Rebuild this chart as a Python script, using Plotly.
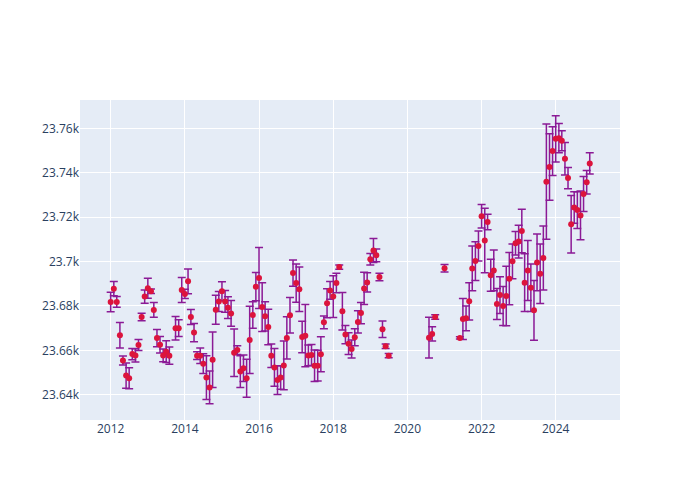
import plotly.graph_objects as go

dates = [
    "2012-01-01", "2012-02-01", "2012-03-01", "2012-04-01", "2012-05-01", "2012-06-01",
    "2012-07-01", "2012-08-01", "2012-09-01", "2012-10-01", "2012-11-01", "2012-12-01",
    "2013-01-01", "2013-02-01", "2013-03-01", "2013-04-01", "2013-05-01", "2013-06-01",
    "2013-07-01", "2013-08-01", "2013-10-01", "2013-11-01", "2013-12-01",
    "2014-01-01", "2014-02-01", "2014-03-01", "2014-04-01", "2014-05-01", "2014-06-01",
    "2014-07-01", "2014-08-01", "2014-09-01", "2014-10-01", "2014-11-01", "2014-12-01",
    "2015-01-01", "2015-02-01", "2015-03-01", "2015-04-01", "2015-05-01", "2015-06-01",
    "2015-07-01", "2015-08-01", "2015-09-01", "2015-10-01", "2015-11-01", "2015-12-01",
    "2016-01-01", "2016-02-01", "2016-03-01", "2016-04-01", "2016-05-01", "2016-06-01",
    "2016-07-01", "2016-08-01", "2016-09-01", "2016-10-01", "2016-11-01", "2016-12-01",
    "2017-01-01", "2017-02-01", "2017-03-01", "2017-04-01", "2017-05-01", "2017-06-01",
    "2017-07-01", "2017-08-01", "2017-09-01", "2017-10-01", "2017-11-01", "2017-12-01",
    "2018-01-01", "2018-02-01", "2018-03-01", "2018-04-01", "2018-05-01", "2018-06-01",
    "2018-07-01", "2018-08-01", "2018-09-01", "2018-10-01", "2018-11-01", "2018-12-01",
    "2019-01-01", "2019-02-01", "2019-03-01", "2019-04-01", "2019-05-01", "2019-06-01",
    "2019-07-01",
    "2020-08-01", "2020-09-01", "2020-10-01", "2021-01-01",
    "2021-06-01", "2021-07-01", "2021-08-01", "2021-09-01", "2021-10-01", "2021-11-01",
    "2021-12-01",
    "2022-01-01", "2022-02-01", "2022-03-01", "2022-04-01", "2022-05-01", "2022-06-01",
    "2022-07-01", "2022-08-01", "2022-09-01", "2022-10-01", "2022-11-01", "2022-12-01",
    "2023-01-01", "2023-02-01", "2023-03-01", "2023-04-01", "2023-05-01", "2023-06-01",
    "2023-07-01", "2023-08-01", "2023-09-01", "2023-10-01", "2023-11-01", "2023-12-01",
    "2024-01-01", "2024-02-01", "2024-03-01", "2024-04-01", "2024-05-01", "2024-06-01",
    "2024-07-01", "2024-08-01", "2024-09-01", "2024-10-01", "2024-11-01", "2024-12-01",
]

values = [
    23681.8, 23687.8, 23681.8, 23666.8, 23655.4, 23648.6,
    23647.4, 23658.3, 23657.7, 23662.4, 23675.0, 23684.2,
    23688.0, 23686.6, 23678.2, 23665.5, 23662.5, 23657.7,
    23659.4, 23657.6, 23669.9, 23670.0, 23687.2,
    23685.4, 23691.1, 23675.0, 23668.0, 23657.6, 23657.6,
    23654.0, 23647.7, 23643.3, 23655.8, 23678.3, 23682.0,
    23686.6, 23682.0, 23679.2, 23676.6, 23658.9, 23660.1,
    23650.4, 23651.9, 23647.4, 23664.7, 23675.9, 23688.7,
    23692.6, 23679.5, 23675.3, 23670.5, 23657.6, 23652.3,
    23646.6, 23647.8, 23653.2, 23665.6, 23675.8, 23694.8,
    23690.3, 23687.5, 23666.0, 23666.6, 23657.7, 23657.9,
    23653.1, 23653.1, 23658.2, 23672.6, 23681.2, 23687.0,
    23684.2, 23690.3, 23697.5, 23677.6, 23667.1, 23663.0,
    23660.6, 23665.9, 23672.8, 23676.8, 23687.9, 23690.6,
    23701.0, 23705.0, 23702.8, 23693.0, 23669.5, 23661.8,
    23657.6,
    23665.7, 23667.4, 23675.0, 23697.0,
    23665.6, 23674.1, 23674.4, 23682.1, 23696.9, 23700.2,
    23707.0,
    23720.4, 23709.5, 23717.8, 23693.8, 23696.0, 23680.9,
    23684.9, 23680.0, 23684.5, 23692.3, 23700.1, 23708.2,
    23709.0, 23713.8, 23690.5, 23696.0, 23688.2, 23678.0,
    23699.6, 23694.5, 23701.6, 23736.0, 23742.6, 23749.8,
    23755.3, 23755.6, 23754.4, 23746.3, 23737.6, 23716.8,
    23724.4, 23723.2, 23720.8, 23730.4, 23735.7, 23744.2,
]

errors = [
    4.4, 3.2, 2.4, 5.7, 2.0, 5.7,
    4.7, 2.5, 3.0, 2.5, 1.7, 3.0,
    4.5, 1.0, 3.3, 3.9, 3.7, 2.9,
    4.9, 3.9, 5.3, 3.8, 5.6,
    2.1, 5.6, 3.4, 4.1, 1.7, 3.5,
    4.4, 9.9, 7.4, 12.5, 6.5, 4.5,
    4.3, 4.9, 4.9, 5.8, 10.7, 2.0,
    7.1, 6.0, 8.6, 15.2, 6.0, 6.4,
    13.7, 11.0, 6.6, 8.0, 5.3, 8.5,
    6.5, 5.3, 11.0, 9.5, 8.0, 5.9,
    8.6, 10.0, 7.1, 14.0, 4.7, 4.7,
    7.1, 6.9, 7.9, 2.9, 6.5, 4.0,
    9.4, 4.4, 1.0, 8.4, 4.1, 4.9,
    4.1, 3.8, 5.0, 4.8, 7.3, 4.3,
    2.6, 5.4, 2.9, 1.7, 3.7, 1.0,
    1.0,
    9.2, 3.2, 1.0, 1.7,
    0.5, 9.2, 5.6, 8.4, 10.1, 8.7,
    6.8,
    5.3, 14.5, 3.5, 7.2, 9.2, 7.0,
    8.3, 8.8, 13.4, 11.8, 7.8, 5.3,
    7.4, 9.8, 13.0, 13.5, 10.7, 13.5,
    12.8, 13.4, 14.4, 26.0, 15.0, 11.0,
    10.4, 6.6, 4.5, 7.3, 4.8, 13.0,
    7.1, 8.3, 11.0, 7.9, 5.3, 4.8,
]

fig = go.Figure(
    go.Scatter(
        x=dates,
        y=values,
        mode="markers",
        marker=dict(color="crimson", size=6),
        error_y=dict(type="data", array=errors, visible=True,
                     color="#8B1A96", thickness=1.5, width=4),
    )
)

fig.update_layout(
    width=700,
    height=500,
    template="plotly",
    showlegend=False,
    xaxis=dict(range=["2011-03-05", "2025-09-25"]),
    yaxis=dict(range=[23628.6, 23772.8], dtick=20),
)

fig.write_html("out.html")
